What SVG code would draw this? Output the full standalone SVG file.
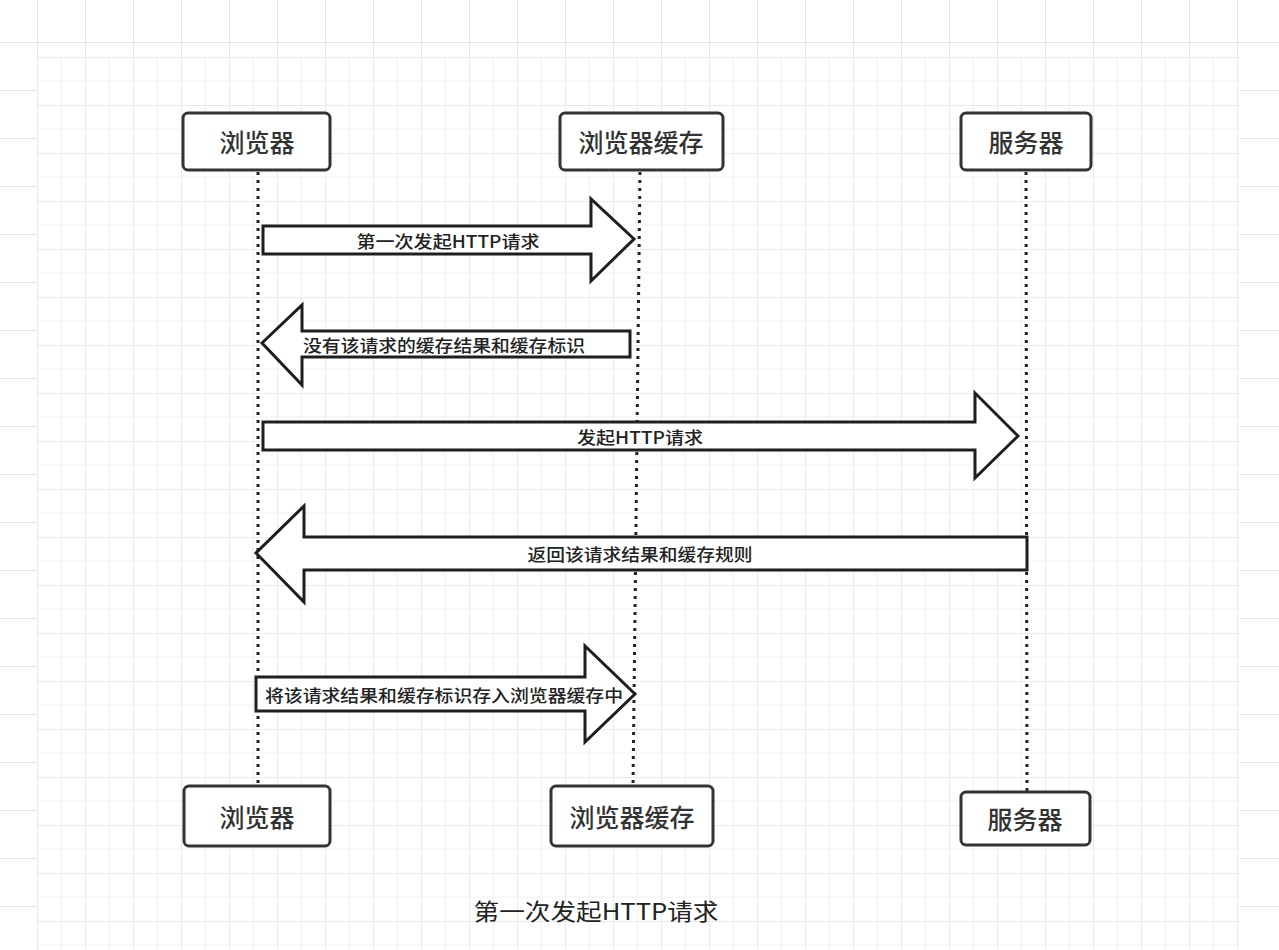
<svg xmlns="http://www.w3.org/2000/svg" width="1279" height="950" viewBox="0 0 1279 950">
<defs>
<pattern id="outerGrid" x="37" y="42" width="48" height="48" patternUnits="userSpaceOnUse">
<path d="M0 0H48M0 0V48" fill="none" stroke="#e3e3e3" stroke-width="2"/>
</pattern>
<pattern id="innerGrid" x="37" y="57" width="48" height="48" patternUnits="userSpaceOnUse">
<path d="M0 24H48M24 0V48" fill="none" stroke="#f0f0f0" stroke-width="1"/>
<path d="M0 0H48M0 0V48" fill="none" stroke="#e4e4e4" stroke-width="1.5"/>
</pattern>
<style>
.box{fill:#fff;stroke:#333;stroke-width:3}
.node-label{font-family:"Noto Sans CJK SC","Noto Sans",sans-serif;font-size:25px;font-weight:500;fill:#333;text-anchor:middle;dominant-baseline:central}
.life{fill:none;stroke:#222;stroke-width:3;stroke-dasharray:3 5}
.arrow{fill:#fff;stroke:#1e1e1e;stroke-width:3;stroke-linejoin:miter}
.arrow-label{font-family:"Noto Sans CJK SC","Noto Sans",sans-serif;font-size:17px;font-weight:500;fill:#222;text-anchor:middle;dominant-baseline:central}
.caption{font-family:"Noto Sans CJK SC","Noto Sans",sans-serif;font-size:23px;fill:#222;text-anchor:middle;dominant-baseline:central}
</style>
</defs>
<rect x="0" y="0" width="1279" height="950" fill="#fff"/>
<rect x="0" y="0" width="1279" height="950" fill="url(#outerGrid)"/>
<rect x="37" y="57" width="1203" height="893" fill="#fff"/>
<rect x="37" y="57" width="1203" height="893" fill="url(#innerGrid)"/>

<g id="connectors">
<line class="life" x1="258" y1="172" x2="258" y2="786"/>
<line class="life" x1="640" y1="172" x2="633" y2="786"/>
<line class="life" x1="1026" y1="172" x2="1027" y2="792"/>

<g id="msg1">
<polygon class="arrow" points="263,226 591,226 591,199 634,239 591,281 591,254 263,254"/>
<text class="arrow-label" x="448" y="240" textLength="183" lengthAdjust="spacingAndGlyphs">第一次发起HTTP请求</text>
</g>
<g id="msg2">
<polygon class="arrow" points="630,331 302,331 302,305 262,343 302,385 302,357 630,357"/>
<text class="arrow-label" x="444" y="344" textLength="282" lengthAdjust="spacingAndGlyphs">没有该请求的缓存结果和缓存标识</text>
</g>
<g id="msg3">
<polygon class="arrow" points="263,422 975,422 975,393 1018,436 975,478 975,450 263,450"/>
<text class="arrow-label" x="640" y="436" textLength="126" lengthAdjust="spacingAndGlyphs">发起HTTP请求</text>
</g>
<g id="msg4">
<polygon class="arrow" points="1027,537 304,537 304,506 256,553 304,602 304,570 1027,570"/>
<text class="arrow-label" x="640" y="553" textLength="225" lengthAdjust="spacingAndGlyphs">返回该请求结果和缓存规则</text>
</g>
<g id="msg5">
<polygon class="arrow" points="256,677 585,677 585,646 635,694 585,742 585,711 256,711"/>
<text class="arrow-label" x="444" y="694" textLength="358" lengthAdjust="spacingAndGlyphs">将该请求结果和缓存标识存入浏览器缓存中</text>
</g>
</g>

<g id="browser-top">
<rect class="box" x="183" y="113" width="147" height="57" rx="5"/>
<text class="node-label" x="257" y="141">浏览器</text>
</g>
<g id="cache-top">
<rect class="box" x="560" y="113" width="163" height="57" rx="5"/>
<text class="node-label" x="641" y="141">浏览器缓存</text>
</g>
<g id="server-top">
<rect class="box" x="961" y="113" width="130" height="57" rx="5"/>
<text class="node-label" x="1026" y="141">服务器</text>
</g>

<g id="browser-bottom">
<rect class="box" x="184" y="786" width="146" height="60" rx="5"/>
<text class="node-label" x="257" y="816">浏览器</text>
</g>
<g id="cache-bottom">
<rect class="box" x="551" y="786" width="162" height="60" rx="5"/>
<text class="node-label" x="632" y="816">浏览器缓存</text>
</g>
<g id="server-bottom">
<rect class="box" x="961" y="792" width="129" height="53" rx="5"/>
<text class="node-label" x="1025" y="818">服务器</text>
</g>

<text class="caption" x="596" y="910" textLength="245" lengthAdjust="spacingAndGlyphs">第一次发起HTTP请求</text>
</svg>
